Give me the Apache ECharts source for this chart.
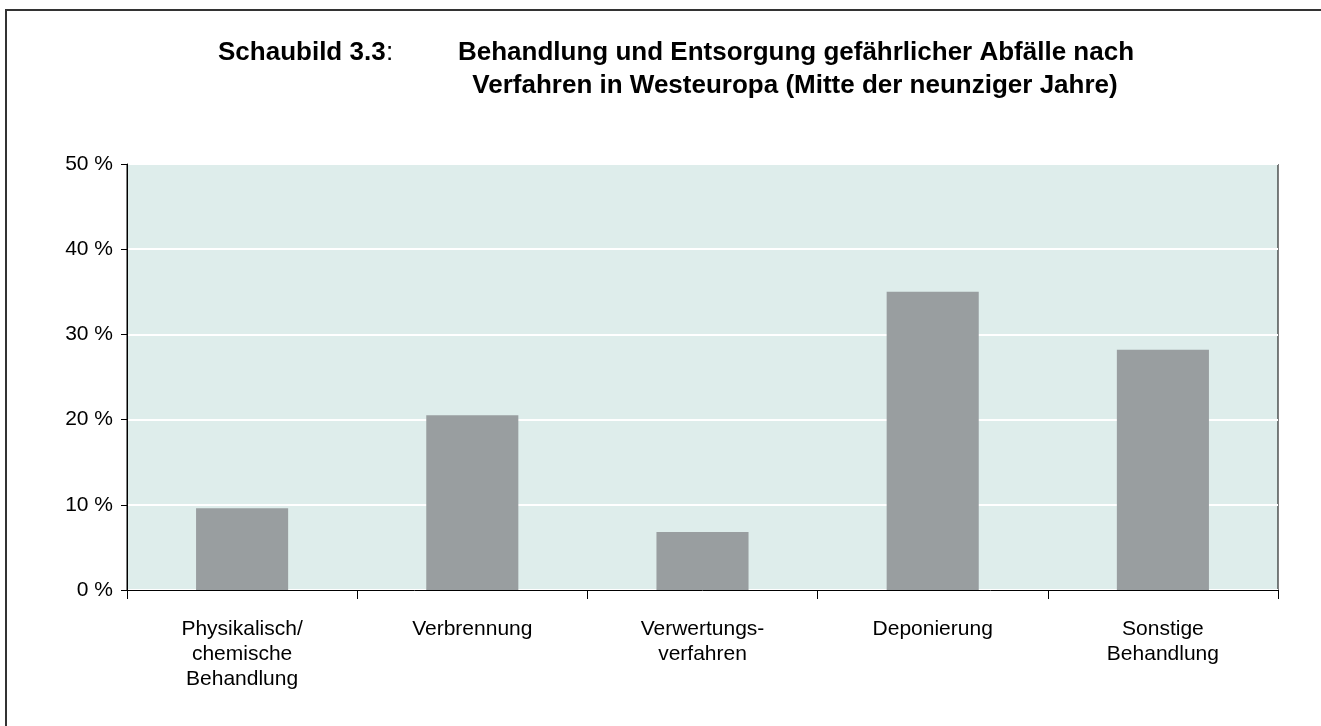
<!DOCTYPE html>
<html>
<head>
<meta charset="utf-8">
<script src="https://cdn.jsdelivr.net/npm/echarts@6/dist/echarts.min.js"></script>
<style>
html,body{margin:0;padding:0;background:#fff;}
#frame{position:absolute;left:5px;top:9px;width:1330px;height:730px;border-left:2px solid #333;border-top:2px solid #333;box-sizing:border-box;}
#chart{position:absolute;left:0;top:0;width:1321px;height:726px;}
</style>
</head>
<body>
<div id="frame"></div>
<div id="chart"></div>
<script>
const categories = ['Physikalisch/\nchemische\nBehandlung', 'Verbrennung', 'Verwertungs-\nverfahren', 'Deponierung', 'Sonstige\nBehandlung'];
const shares = [9.6, 20.5, 6.8, 35.0, 28.2];
const yTicks = [0, 10, 20, 30, 40, 50];
const titlePrefix = 'Schaubild 3.3';
const titleLines = ['Behandlung und Entsorgung gefährlicher Abfälle nach', 'Verfahren in Westeuropa (Mitte der neunziger Jahre)'];

const chart = echarts.init(document.getElementById('chart'));
const font = "'Liberation Sans', Arial, sans-serif";
chart.setOption({
  animation: false,
  backgroundColor: 'transparent',
  textStyle: { fontFamily: font },
  grid: { left: 127, right: 43, top: 164, bottom: 136, show: true, backgroundColor: '#deedeb', borderColor: '#000', borderWidth: 1 },
  graphic: [
    { type: 'text', left: 218, top: 40, style: { text: titlePrefix, font: "bold 26px 'Liberation Sans', Arial, sans-serif", fill: '#000' } },
    { type: 'text', left: 386, top: 40, style: { text: ':', font: "26px 'Liberation Sans', Arial, sans-serif", fill: '#000' } },
    { type: 'text', x: 796, y: 40, style: { text: titleLines[0], font: "bold 26px 'Liberation Sans', Arial, sans-serif", fill: '#000', align: 'center', verticalAlign: 'top' } },
    { type: 'text', x: 795, y: 73, style: { text: titleLines[1], font: "bold 26px 'Liberation Sans', Arial, sans-serif", fill: '#000', align: 'center', verticalAlign: 'top' } }
  ],
  xAxis: {
    type: 'category',
    data: categories,
    boundaryGap: true,
    axisLine: { lineStyle: { color: '#000', width: 1 } },
    axisTick: { show: true, length: 9, alignWithLabel: false, lineStyle: { color: '#000' } },
    axisLabel: { color: '#000', fontSize: 21, lineHeight: 25, margin: 27, interval: 0, fontFamily: font }
  },
  yAxis: {
    type: 'value',
    min: 0, max: 50, interval: 10,
    axisLine: { show: true, lineStyle: { color: '#000', width: 1 } },
    axisTick: { show: true, length: 6, lineStyle: { color: '#000' } },
    axisLabel: { color: '#000', fontSize: 21, margin: 14, fontFamily: font,
      formatter: v => yTicks.includes(v) ? v + ' %' : '' },
    splitLine: { show: true, lineStyle: { color: '#ffffff', width: 2 } }
  },
  series: [{
    type: 'bar',
    data: shares,
    barWidth: '40%',
    itemStyle: { color: '#999ea0' }
  }]
});
</script>
</body>
</html>
